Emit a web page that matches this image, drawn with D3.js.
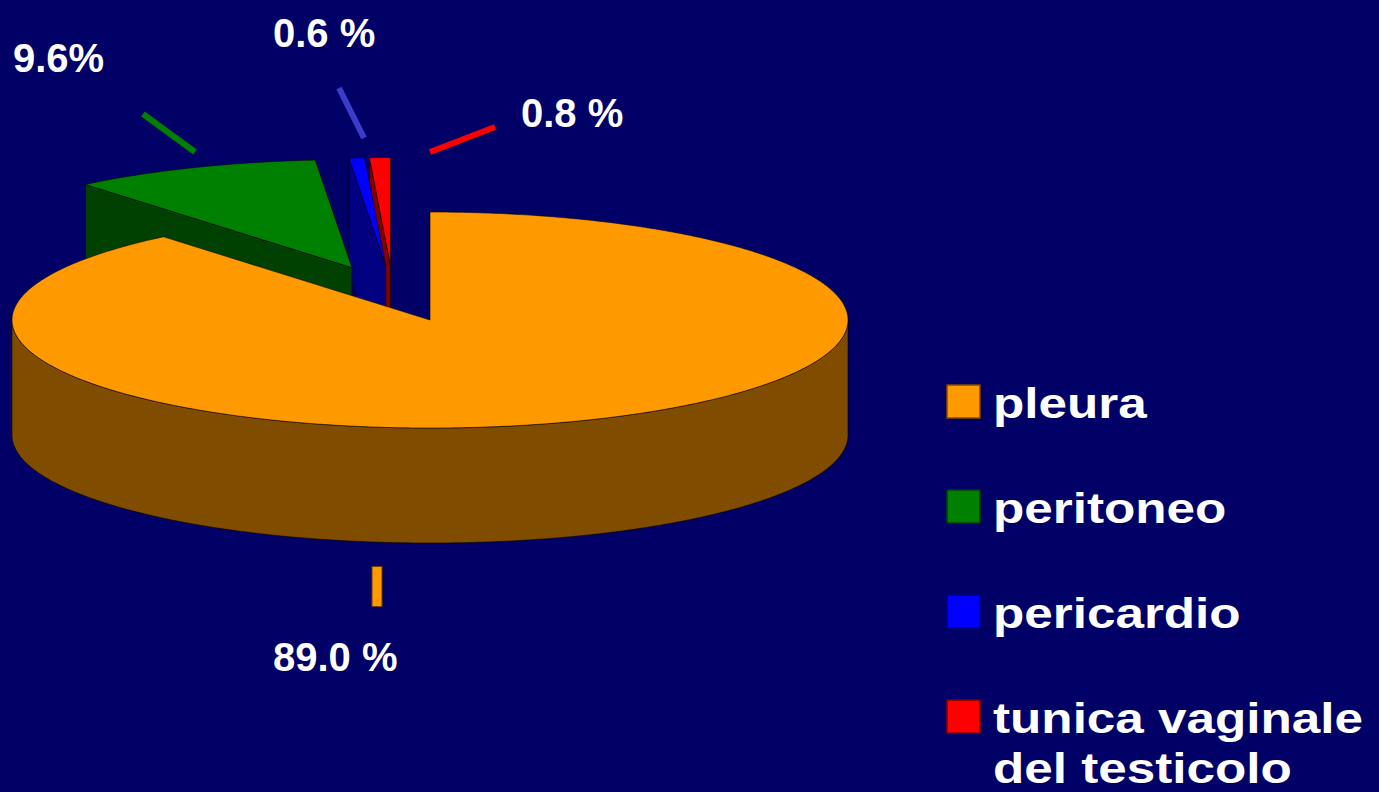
<!DOCTYPE html>
<html><head><meta charset="utf-8">
<script src="https://cdn.jsdelivr.net/npm/d3@7"></script>
<style>html,body{margin:0;padding:0;background:#000066;overflow:hidden} svg{display:block}</style>
</head><body>
<svg id="chart" width="1379" height="792"></svg>
<script>
// ---- data ----
const categories = ["pleura", "peritoneo", "pericardio", "tunica vaginale del testicolo"];
const legendLines = [["pleura"], ["peritoneo"], ["pericardio"], ["tunica vaginale", "del testicolo"]];
const values = [89.0, 9.6, 0.6, 0.8];
const valueLabels = ["89.0 %", "9.6%", "0.6 %", "0.8 %"];

// ---- styles ----
const topColors = ["#FF9900", "#008000", "#0000FF", "#FF0000"];
const sideColors = ["#7F4C00", "#004000", "#000080", "#800000"];
const leaderColors = ["#FF9900", "#008000", "#3B3BCC", "#FF0000"];

// ---- layout ----
const W = 1379, H = 792;
const pieCX = 393.2, pieCY = 293.6, rx = 418, ry = 108, depth = 115, explode = 0.26;
// label anchors and leader lines (annotation layout)
const labelLayout = [
  {x: 273, y: 671, l1: [377, 567], l2: [377, 606], w: 9},
  {x: 13,  y: 72,  l1: [195, 152], l2: [143, 114], w: 6},
  {x: 273, y: 47,  l1: [364, 138], l2: [339, 88],  w: 6},
  {x: 521, y: 127, l1: [430, 152], l2: [495, 127], w: 6}
];
const legendX = 947, legendY0 = 385, legendStep = 105, legendBox = 33, legendLineH = 50;

const svg = d3.select("#chart");
svg.append("rect").attr("width", W).attr("height", H).attr("fill", "#000066");

const pie = d3.pie().sort(null).value(d => d).startAngle(0).endAngle(2 * Math.PI);
const arcs = pie(values).map((a, i) => {
  const mid = (a.startAngle + a.endAngle) / 2;
  return Object.assign(a, {
    i, mid,
    ox: pieCX + explode * rx * Math.sin(mid),
    oy: pieCY - explode * ry * Math.cos(mid)
  });
});

const P = (a, t, r, h) => [a.ox + rx * r * Math.sin(t), a.oy - ry * r * Math.cos(t) + h];
const line = d3.line();

function arcPts(a, t0, t1, h) {
  const n = Math.max(2, Math.ceil(Math.abs(t1 - t0) / 0.01));
  return d3.range(n + 1).map(k => P(a, t0 + (t1 - t0) * k / n, 1, h));
}

const g = svg.append("g");
const strokeCol = "rgba(0,0,0,0.55)";

const order = arcs.slice().sort((p, q) => p.oy - q.oy);
order.forEach(a => {
  const sg = g.append("g");
  // radial walls (front-facing only)
  [[a.startAngle, a.startAngle - Math.PI / 2], [a.endAngle, a.endAngle + Math.PI / 2]].forEach(([t, phi]) => {
    if (Math.cos(phi) < -1e-6) {
      const apex = [a.ox, a.oy];
      const pts = [apex, P(a, t, 1, 0), P(a, t, 1, depth), [a.ox, a.oy + depth]];
      sg.append("path").attr("d", line(pts) + "Z")
        .attr("fill", sideColors[a.i]).attr("stroke", strokeCol).attr("stroke-width", 1);
    }
  });
  // outer curved wall, visible portion in front
  const t0 = Math.max(a.startAngle, Math.PI / 2), t1 = Math.min(a.endAngle, 3 * Math.PI / 2);
  if (t1 > t0) {
    const pts = arcPts(a, t0, t1, 0).concat(arcPts(a, t1, t0, depth));
    sg.append("path").attr("d", line(pts) + "Z")
      .attr("fill", sideColors[a.i]).attr("stroke", strokeCol).attr("stroke-width", 1);
  }
  // top face
  const topPts = [[a.ox, a.oy]].concat(arcPts(a, a.startAngle, a.endAngle, 0));
  sg.append("path").attr("d", line(topPts) + "Z")
    .attr("fill", topColors[a.i]).attr("stroke", strokeCol).attr("stroke-width", 1);
});

// leader lines
labelLayout.forEach((L, i) => {
  if (i === 0) {
    svg.append("line").attr("x1", L.l1[0]).attr("y1", L.l1[1] - 1).attr("x2", L.l2[0]).attr("y2", L.l2[1] + 1)
      .attr("stroke", "#6a4000").attr("stroke-width", L.w + 2);
  }
  svg.append("line").attr("x1", L.l1[0]).attr("y1", L.l1[1]).attr("x2", L.l2[0]).attr("y2", L.l2[1])
    .attr("stroke", leaderColors[i]).attr("stroke-width", L.w);
});

// value labels
labelLayout.forEach((L, i) => {
  svg.append("text").attr("x", L.x).attr("y", L.y)
    .attr("font-family", "'Liberation Sans', Arial, sans-serif").attr("font-weight", "bold")
    .attr("font-size", 40).attr("fill", "#FFFFFF").text(valueLabels[i]);
});

// legend
const leg = svg.append("g");
categories.forEach((c, i) => {
  const y = legendY0 + i * legendStep;
  leg.append("rect").attr("x", legendX).attr("y", y).attr("width", legendBox).attr("height", legendBox)
    .attr("fill", topColors[i]).attr("stroke", sideColors[i]).attr("stroke-width", 1.5);
  legendLines[i].forEach((t, k) => {
    leg.append("text")
      .attr("transform", `translate(993,${y + 33 + k * legendLineH}) scale(1.22,1)`)
      .attr("font-family", "'Liberation Sans', Arial, sans-serif").attr("font-weight", "bold")
      .attr("font-size", 42).attr("fill", "#FFFFFF").text(t);
  });
});
</script>
</body></html>
